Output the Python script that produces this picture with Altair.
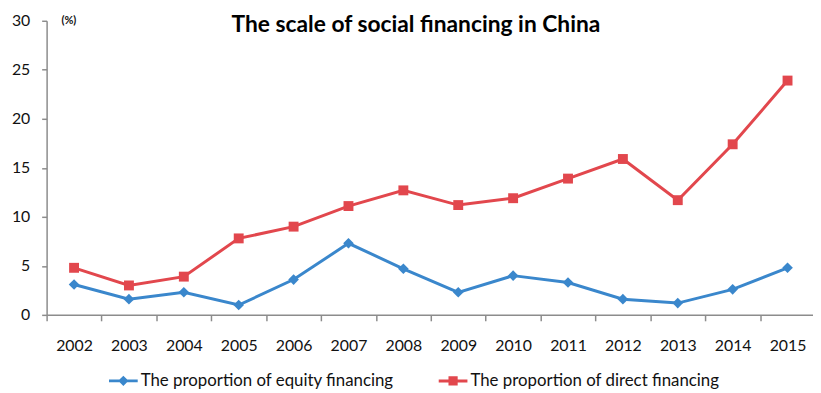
import altair as alt
import pandas as pd

years = [str(y) for y in range(2002, 2016)]
equity = [3.1, 1.6, 2.3, 1.0, 3.6, 7.3, 4.7, 2.3, 4.0, 3.3, 1.6, 1.2, 2.6, 4.8]
direct = [4.8, 3.0, 3.9, 7.8, 9.0, 11.1, 12.7, 11.2, 11.9, 13.9, 15.9, 11.7, 17.4, 23.9]
series_names = ["The proportion of equity financing", "The proportion of direct financing"]
colors = ["#3A87CC", "#E2474D"]

df_eq = pd.DataFrame({"year": years, "value": equity, "series": series_names[0]})
df_dir = pd.DataFrame({"year": years, "value": direct, "series": series_names[1]})
df_all = pd.concat([df_eq, df_dir], ignore_index=True)

FONT = "Lato"
W, H = 774, 297

x_enc = alt.X("year:N", sort=years,
              scale=alt.Scale(range=[0, 776], paddingInner=0, paddingOuter=0),
              axis=alt.Axis(title=None, labelAngle=0, tickBand="extent", tickSize=6,
                            labelPadding=17, labelFontSize=16, labelFont=FONT,
                            labelColor="#111111", domainColor="#8C8C8C",
                            tickColor="#8C8C8C", domainWidth=1.5, tickWidth=1.5))
y_enc = alt.Y("value:Q", scale=alt.Scale(domain=[0, 30], nice=False),
              axis=alt.Axis(values=[0, 5, 10, 15, 20, 25, 30], title="(%)",
                            titleAngle=0, titleX=22, titleY=0, titleAlign="center",
                            titleBaseline="middle", titleFontSize=11, titleFont=FONT,
                            titleFontWeight="bold", titleColor="#111111",
                            grid=False, tickSize=5, labelPadding=12, labelFontSize=16,
                            labelFont=FONT, labelColor="#111111",
                            domainColor="#8C8C8C", tickColor="#8C8C8C",
                            domainWidth=1.5, tickWidth=1.5))

line_eq = alt.Chart(df_eq).mark_line(color=colors[0], strokeWidth=3).encode(x=x_enc, y=y_enc)
line_dir = alt.Chart(df_dir).mark_line(color=colors[1], strokeWidth=3).encode(x=x_enc, y=y_enc)
pt_eq = alt.Chart(df_eq).mark_point(shape="diamond", filled=True, size=115, opacity=1,
                                    color=colors[0]).encode(x=x_enc, y=y_enc)
pt_dir = alt.Chart(df_dir).mark_point(shape="square", filled=True, size=100, opacity=1,
                                      color=colors[1]).encode(x=x_enc, y=y_enc)

eq_path = "M-1,-0.1L1,-0.1L1,0.1L-1,0.1Z M0,-0.36L0.36,0L0,0.36L-0.36,0Z"
dir_path = "M-1,-0.1L1,-0.1L1,0.1L-1,0.1Z M-0.32,-0.32L0.32,-0.32L0.32,0.32L-0.32,0.32Z"

legend_cfg = dict(title=None, orient="none", direction="horizontal",
                  legendX=62, legendY=348, symbolSize=841,
                  labelFontSize=17, labelFont=FONT, labelColor="#111111",
                  labelOffset=2, labelLimit=0, columnPadding=42, padding=0,
                  symbolOpacity=1)

legend_layer = alt.Chart(df_all).mark_point(filled=True, opacity=1).encode(
    x=x_enc, y=y_enc,
    size=alt.value(0),
    color=alt.Color("series:N", sort=series_names,
                    scale=alt.Scale(domain=series_names, range=colors),
                    legend=alt.Legend(**legend_cfg)),
    shape=alt.Shape("series:N", sort=series_names,
                    scale=alt.Scale(domain=series_names, range=[eq_path, dir_path]),
                    legend=alt.Legend(**legend_cfg)),
)

chart = alt.layer(line_eq, line_dir, pt_eq, pt_dir, legend_layer).properties(
    width=W, height=H,
    title=alt.TitleParams("The scale of social financing in China", anchor="middle",
                          font=FONT, fontSize=23, fontWeight="bold", color="#000000",
                          offset=-24, dx=-14),
    autosize=alt.AutoSizeParams(type="none"),
    padding={"left": 39, "top": 11, "right": 0, "bottom": 76},
).configure_view(stroke=None)

chart.save("out.html", embed_options={"renderer": "svg", "actions": False})
